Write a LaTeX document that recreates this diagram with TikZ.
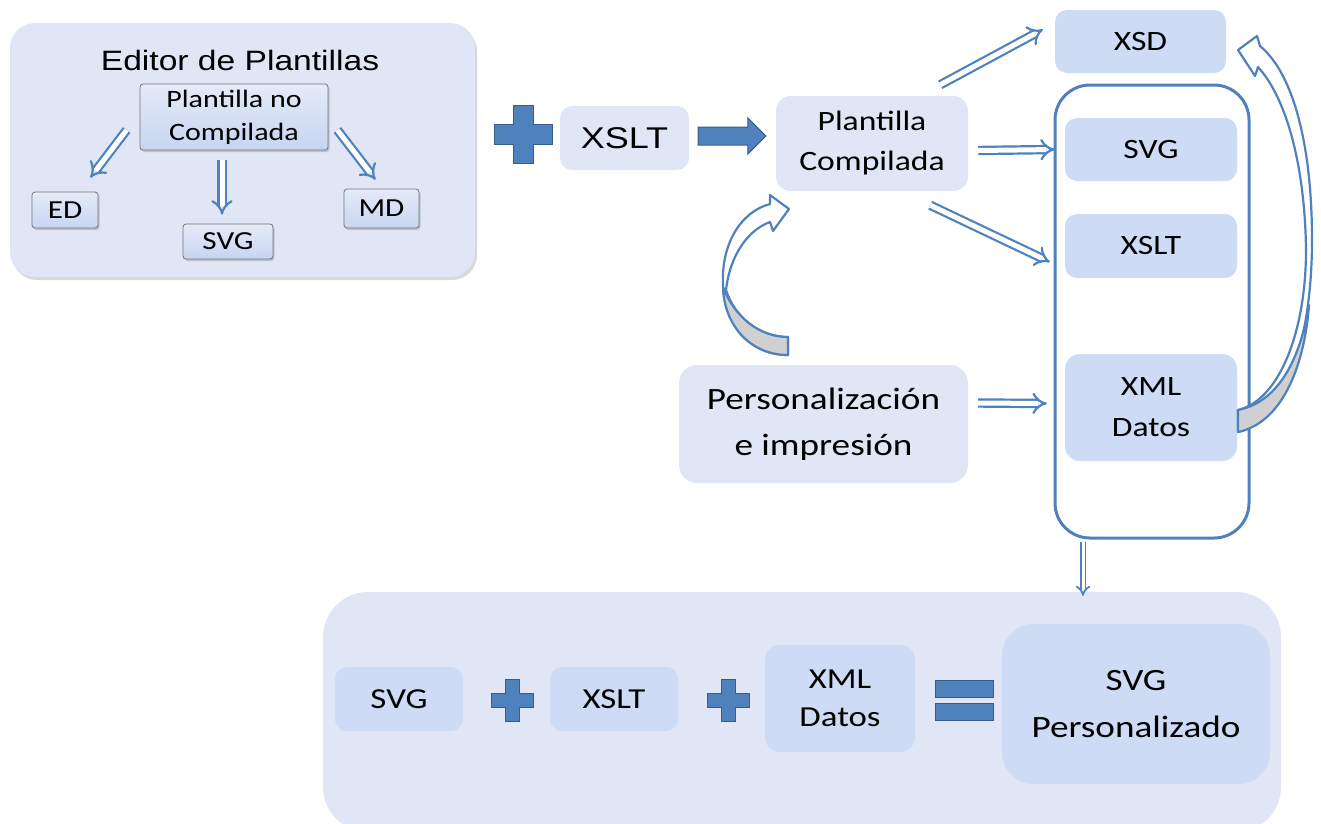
\documentclass[tikz,border=0pt]{standalone}
\usepackage{fontspec}
\setmainfont{Carlito}[FakeStretch=1.2]
\newfontfamily\arialf{Liberation Sans}[FakeStretch=1.2]
\usetikzlibrary{arrows.meta,calc,shadows}
\definecolor{bluec}{RGB}{79,129,189}
\definecolor{darkb}{RGB}{56,93,138}
\definecolor{panelc}{RGB}{224,230,246}
\definecolor{boxc}{RGB}{205,219,244}
\definecolor{gtop}{RGB}{228,235,249}
\definecolor{gbot}{RGB}{198,213,240}
\definecolor{grayc}{RGB}{208,208,210}
\tikzset{
  panel/.style={rounded corners=25pt, fill=panelc, draw=none, inner sep=0pt},
  lbox/.style={rounded corners=12pt, fill=panelc, draw=none, inner sep=0pt, align=center},
  ibox/.style={rounded corners=12pt, fill=boxc, draw=none, inner sep=0pt, align=center},
  gbox/.style={rounded corners=3pt, top color=gtop, bottom color=gbot, draw=black!55, line width=0.8pt, inner sep=0pt, align=center,
     drop shadow={opacity=0.35, shadow xshift=1.5pt, shadow yshift=-2pt}},
  oarr/.style={draw=bluec, line width=2.2pt, double=white, double distance=5pt, -{Implies}},
  plusst/.style={fill=bluec, draw=darkb, line width=1pt},
  pics/plussign/.style args={#1/#2}{code={
    \draw[plusst] (-#1,-#2) -- (-#2,-#2) -- (-#2,-#1) -- (#2,-#1) -- (#2,-#2) -- (#1,-#2)
       -- (#1,#2) -- (#2,#2) -- (#2,#1) -- (-#2,#1) -- (-#2,#2) -- (-#1,#2) -- cycle;}}
}
\begin{document}
\begin{tikzpicture}[x=1pt,y=-1pt]
\useasboundingbox (0,0) rectangle (1321,823);
% ---------- Editor panel
\node[panel, minimum width=465pt, minimum height=254pt,
      drop shadow={opacity=0.3, shadow xshift=2pt, shadow yshift=-3pt}] (editor) at (242.5,150) {};
\node[font=\arialf\fontsize{28}{34}\selectfont] (title) at (240,60) {Editor de Plantillas};
\node[gbox, minimum width=188pt, minimum height=66pt, font=\fontsize{25}{33}\selectfont] (pnc) at (234,117) {Plantilla no\\Compilada};
\node[gbox, minimum width=66pt, minimum height=36pt, font=\fontsize{26}{30}\selectfont] (ed) at (65,210) {ED};
\node[gbox, minimum width=90pt, minimum height=35pt, font=\fontsize{26}{30}\selectfont] (svga) at (228,241.5) {SVG};
\node[gbox, minimum width=75pt, minimum height=39pt, font=\fontsize{26}{30}\selectfont] (md) at (381.5,208.5) {MD};
\draw[oarr] ($(pnc.west)+(-13,13)$) -- ($(ed.north east)+(-8,-14)$);
\draw[oarr] ($(pnc.south)+(-12,10)$) -- ($(svga.north)+(-6,-9)$);
\draw[oarr] ($(pnc.east)+(9,13)$) -- ($(md.north)+(-6,-9)$);
% ---------- plus XSLT
\pic at (523,134) {plussign=29/10};
\node[lbox, minimum width=129pt, minimum height=64pt, font=\arialf\fontsize{30}{36}\selectfont] (xslta) at (624.5,138) {XSLT};
\node[lbox, rounded corners=15pt, minimum width=192pt, minimum height=95pt, font=\fontsize{28}{40}\selectfont] (pc) at (872,143.5) {Plantilla\\Compilada};
\path let \p1=(xslta.east), \p2=(pc.west) in
  coordinate (ta) at (\x1+9pt, \y1+2pt) coordinate (tb) at (\x2-10pt, \y1+2pt);
\draw[fill=bluec, draw=darkb, line width=1pt]
  ($(ta)+(0,-9)$) -- ($(tb)+(-18,-9)$) -- ($(tb)+(-18,-18)$) -- (tb) -- ($(tb)+(-18,18)$) -- ($(tb)+(-18,9)$) -- ($(ta)+(0,9)$) -- cycle;
% ---------- right column
\node[ibox, minimum width=171pt, minimum height=63pt, font=\fontsize{28}{40}\selectfont] (xsd) at (1140.5,41.5) {XSD};
\node[rounded corners=35pt, draw=bluec, line width=3pt, fill=white, minimum width=194pt, minimum height=453pt] (cont) at (1152,311.5) {};
\node[ibox, minimum width=172pt, minimum height=63pt, font=\fontsize{28}{40}\selectfont] (svgb) at (1151,149.5) {SVG};
\node[ibox, minimum width=172pt, minimum height=64pt, font=\fontsize{28}{40}\selectfont] (xsltb) at (1151,246) {XSLT};
\node[ibox, rounded corners=15pt, minimum width=172pt, minimum height=107pt, font=\fontsize{28}{41}\selectfont] (xmlb) at (1151,407.5) {XML\\Datos};
\node[lbox, rounded corners=18pt, minimum width=289pt, minimum height=118pt, font=\fontsize{31}{46}\selectfont] (pers) at (823.5,424) {Personalización\\e impresión};
\draw[oarr] ($(pc.north east)+(-28,-11)$) -- ($(xsd.west)+(-12,-12)$);
\draw[oarr] ($(pc.east)+(10,7)$) -- ($(svgb.west)+(-10,0)$);
\draw[oarr] ($(pc.south east)+(-38,14)$) -- ($(xsltb.west)+(-15,16)$);
\draw[oarr] ($(pers.east)+(10,-21)$) -- ($(xmlb.west)+(-18,-4)$);
% ---------- curved arrow left (pers -> pc)
\draw[fill=white, draw=bluec, line width=2.2pt, line join=round]
  (788,355) .. controls (750,355) and (724,325) .. (723,285)
  .. controls (721,245) and (740,212) .. (770,204)
  -- (770,195) -- (789,209) -- (773,231) -- (770,222)
  .. controls (748,230) and (730,255) .. (726,290)
  .. controls (735,318) and (760,337) .. (788,337) -- cycle;
\draw[fill=grayc, draw=bluec, line width=2.2pt, line join=round]
  (788,355) .. controls (750,355) and (724,325) .. (723,287)
  .. controls (735,318) and (760,337) .. (788,337) -- cycle;
% ---------- curved arrow right (xmlb -> xsd)
\draw[fill=white, draw=bluec, line width=2.2pt, line join=round]
  (1238,432) .. controls (1290,420) and (1312,330) .. (1312,240)
  .. controls (1312,150) and (1295,75) .. (1260,46)
  -- (1257,36) -- (1238,50) -- (1255,76) -- (1258,67)
  .. controls (1288,100) and (1305,170) .. (1306,250)
  .. controls (1306,330) and (1280,400) .. (1238,410) -- cycle;
\draw[fill=grayc, draw=bluec, line width=2.2pt, line join=round]
  (1238,432) .. controls (1285,422) and (1305,360) .. (1309,305)
  .. controls (1300,360) and (1278,402) .. (1238,410) -- cycle;
% ---------- bottom panel
\node[panel, rounded corners=45pt, minimum width=958pt, minimum height=240pt] (bottom) at (802,712) {};
\draw[draw=bluec, line width=1.8pt, double=white, double distance=3pt, -{Implies}] ($(cont.south)+(-69,2)$) -- ($(bottom.north)+(281,4)$);
\node[ibox, minimum width=128pt, minimum height=64pt, font=\fontsize{29}{38}\selectfont] (svgc) at (399,699) {SVG};
\pic at (512,700) {plussign=21/7};
\node[ibox, minimum width=128pt, minimum height=64pt, font=\fontsize{29}{38}\selectfont] (xsltc) at (614,699) {XSLT};
\pic at (728,700) {plussign=21/7};
\node[ibox, rounded corners=15pt, minimum width=150pt, minimum height=107pt, font=\fontsize{29}{38}\selectfont] (xmlc) at (840,698.5) {XML\\Datos};
\draw[plusst] (935,680) rectangle (993,697);
\draw[plusst] (935,703) rectangle (993,720);
\node[ibox, rounded corners=32pt, minimum width=268pt, minimum height=160pt, font=\fontsize{31}{47}\selectfont] (svgp) at (1136,704) {SVG\\Personalizado};
\end{tikzpicture}
\end{document}
